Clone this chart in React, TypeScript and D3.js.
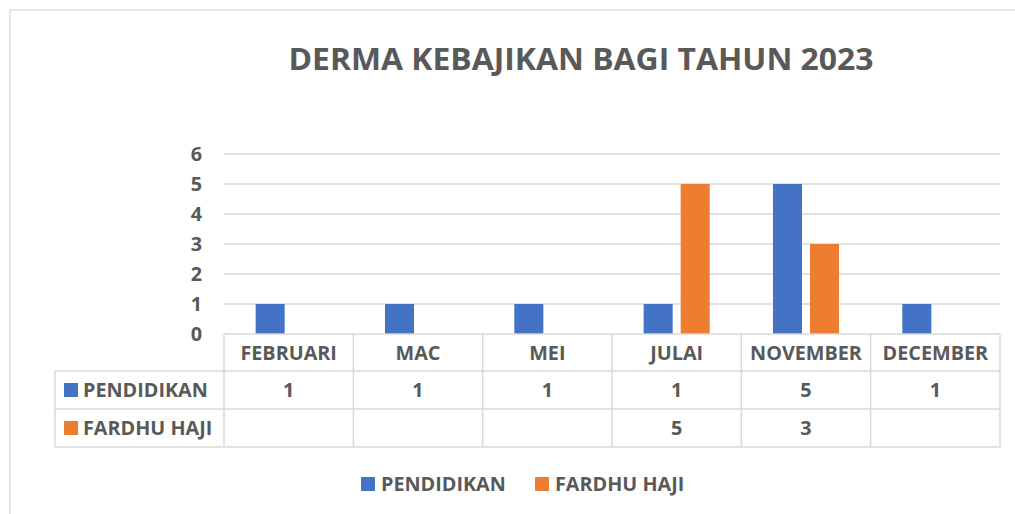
import React from "react";
import * as d3 from "d3";

const categories = ["FEBRUARI", "MAC", "MEI", "JULAI", "NOVEMBER", "DECEMBER"];
const seriesNames = ["PENDIDIKAN", "FARDHU HAJI"];
const pendidikan: (number | null)[] = [1, 1, 1, 1, 5, 1];
const fardhuHaji: (number | null)[] = [null, null, null, 5, 3, null];
const seriesColors = ["#4472C4", "#ED7D31"];
const yTicks = [0, 1, 2, 3, 4, 5, 6];
const title = "DERMA KEBAJIKAN BAGI TAHUN 2023";

const W = 1015;
const H = 514;
const FONT = "'Open Sans', 'DejaVu Sans', sans-serif";
const TEXT = "#595959";
const GRID = "#D9D9D9";
const FS = 19.8;

export default function App() {
  const series = [pendidikan, fardhuHaji];
  const x = d3.scaleBand<string>().domain(categories).range([224, 1000]).paddingInner(0).paddingOuter(0);
  const xs = d3.scaleBand<string>().domain(seriesNames).range([0, x.bandwidth()]).paddingInner(0.216).paddingOuter(0.855);
  const y = d3.scaleLinear().domain([0, 6]).range([334, 154]);

  const tableLeft = 55;
  const rowTops = [334, 371, 409, 447];
  const right = 1000;

  return (
    <svg width={W} height={H} style={{ position: "fixed", left: 0, top: 0, background: "#fff" }} fontFamily={FONT}>
      <rect x={0} y={0} width={W} height={H} fill="#fff" />
      <rect x={10} y={10} width={W + 20} height={H + 20} fill="none" stroke={GRID} strokeWidth={1.3} />
      <text x={581} y={70} textAnchor="middle" fontSize={31} fontWeight="bold" fill={TEXT} textLength={585} lengthAdjust="spacingAndGlyphs">
        {title}
      </text>

      {/* gridlines */}
      {yTicks.filter(t => t > 0).map(t => (
        <line key={t} x1={224} x2={right} y1={y(t)} y2={y(t)} stroke={GRID} strokeWidth={1.5} />
      ))}
      {yTicks.map(t => (
        <text key={"l" + t} x={202} y={y(t)} dy="0.36em" textAnchor="end" fontSize={FS} fontWeight="bold" fill={TEXT}>
          {t}
        </text>
      ))}

      {/* bars */}
      {series.map((vals, si) =>
        vals.map((v, ci) =>
          v == null ? null : (
            <rect
              key={si + "-" + ci}
              x={(x(categories[ci]) as number) + (xs(seriesNames[si]) as number)}
              y={y(v)}
              width={xs.bandwidth()}
              height={y(0) - y(v)}
              fill={seriesColors[si]}
            />
          )
        )
      )}

      {/* data table */}
      <line x1={224} x2={right} y1={rowTops[0]} y2={rowTops[0]} stroke={GRID} strokeWidth={1.5} />
      {rowTops.slice(1).map((ry, i) => (
        <line key={"r" + i} x1={tableLeft} x2={right} y1={ry} y2={ry} stroke={GRID} strokeWidth={1.5} />
      ))}
      <line x1={tableLeft} x2={tableLeft} y1={rowTops[1]} y2={rowTops[3]} stroke={GRID} strokeWidth={1.5} />
      {categories.map(c => (
        <line key={"v" + c} x1={x(c) as number} x2={x(c) as number} y1={rowTops[0]} y2={rowTops[3]} stroke={GRID} strokeWidth={1.5} />
      ))}
      <line x1={right} x2={right} y1={rowTops[0]} y2={rowTops[3]} stroke={GRID} strokeWidth={1.5} />

      {categories.map(c => (
        <text key={"h" + c} x={(x(c) as number) + x.bandwidth() / 2} y={(rowTops[0] + rowTops[1]) / 2} dy="0.36em" textAnchor="middle" fontSize={FS} fontWeight="bold" fill={TEXT}>
          {c}
        </text>
      ))}
      {series.map((vals, si) => {
        const cy = (rowTops[si + 1] + rowTops[si + 2]) / 2;
        return (
          <g key={"row" + si}>
            <rect x={64} y={cy - 7} width={14} height={14} fill={seriesColors[si]} />
            <text x={83} y={cy} dy="0.36em" fontSize={FS} fontWeight="bold" fill={TEXT}>
              {seriesNames[si]}
            </text>
            {vals.map((v, ci) =>
              v == null ? null : (
                <text key={ci} x={(x(categories[ci]) as number) + x.bandwidth() / 2} y={cy} dy="0.36em" textAnchor="middle" fontSize={FS} fontWeight="bold" fill={TEXT}>
                  {v}
                </text>
              )
            )}
          </g>
        );
      })}

      {/* legend */}
      {[361, 535].map((lx, si) => (
        <g key={"lg" + si}>
          <rect x={lx} y={477} width={14} height={14} fill={seriesColors[si]} />
          <text x={lx + 20} y={484} dy="0.36em" fontSize={FS} fontWeight="bold" fill={TEXT}>
            {seriesNames[si]}
          </text>
        </g>
      ))}
    </svg>
  );
}
